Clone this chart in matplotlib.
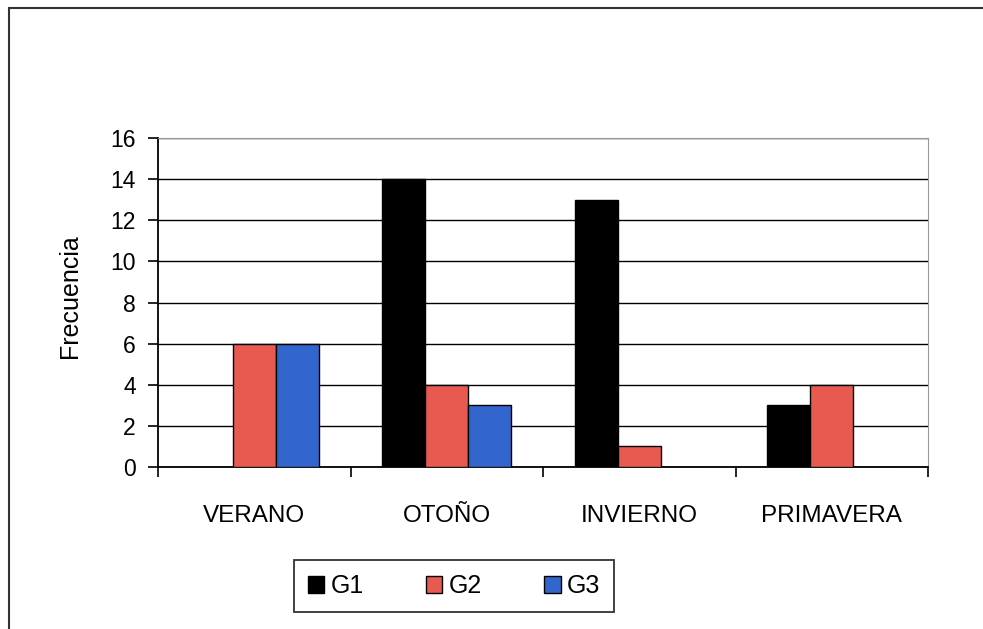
import matplotlib.pyplot as plt
import numpy as np
from matplotlib.patches import Rectangle

plt.rcParams['font.family'] = ['Liberation Sans', 'DejaVu Sans']

estaciones = ['VERANO', 'OTOÑO', 'INVIERNO', 'PRIMAVERA']
grupos = ['G1', 'G2', 'G3']
g1 = [0, 14, 13, 3]
g2 = [6, 4, 1, 4]
g3 = [6, 3, 0, 0]
colores = ['#000000', '#e85a50', '#3366cc']

fig = plt.figure(figsize=(9.83, 6.29), dpi=100)
W, H = 983, 629

# marco exterior (solo se ven los bordes izquierdo y superior)
fig.patches.append(Rectangle((9 / W, -0.05), 1.1, (629 - 8) / H + 0.05,
                             transform=fig.transFigure, fill=False,
                             edgecolor='#333333', linewidth=1.5))

ax = fig.add_axes([158 / W, 1 - 467 / H, (928 - 158) / W, (467 - 138) / H])

x = np.arange(len(estaciones))
ancho = 0.223
for i, (serie, nombre) in enumerate(zip([g1, g2, g3], grupos)):
    ax.bar(x + (i - 1) * ancho, serie, ancho, color=colores[i],
           edgecolor='black', linewidth=1.0, label=nombre, zorder=3)

ax.set_xlim(-0.5, len(estaciones) - 0.5)
ax.set_ylim(0, 16)
ax.set_yticks(range(0, 17, 2))
ax.yaxis.grid(True, color='black', linewidth=1.0, zorder=0)
ax.set_xticks(np.arange(-0.5, len(estaciones), 1), minor=False)
ax.set_xticklabels([])
ax.set_xticks(x, minor=True)
ax.set_xticklabels(estaciones, minor=True, fontsize=17.5)
ax.tick_params(axis='x', which='minor', length=0, pad=27)
ax.tick_params(axis='x', which='major', length=7, direction='out', width=1.2)
ax.tick_params(axis='y', length=7, direction='out', width=1.2, labelsize=16.5, pad=9)

ax.spines['left'].set_linewidth(1.3)
ax.spines['bottom'].set_linewidth(1.3)
ax.spines['top'].set_color('#999999')
ax.spines['right'].set_color('#999999')

ax.set_ylabel('Frecuencia', fontsize=18)
ax.yaxis.set_label_coords(-0.0987, 0.52)

leg = fig.legend(loc='center', bbox_to_anchor=(454 / W, 1 - 586 / H), ncol=3,
                 fontsize=18, frameon=True, fancybox=False, edgecolor='black',
                 handlelength=0.65, handleheight=0.65, handletextpad=0.25,
                 columnspacing=2.5, borderpad=0.55, borderaxespad=0)
leg.get_frame().set_linewidth(1.3)

fig.savefig('out.png', dpi=100)
